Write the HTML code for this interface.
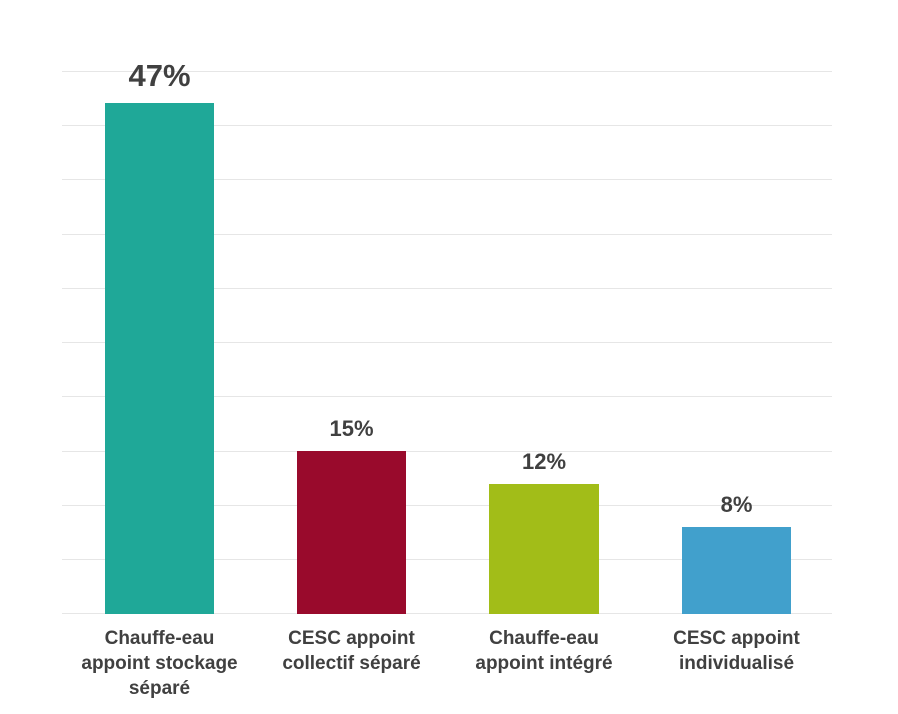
<!DOCTYPE html>
<html><head><meta charset="utf-8"><style>
html,body{margin:0;padding:0;background:#fff;}
body{width:898px;height:714px;overflow:hidden;position:relative;font-family:"Liberation Sans",Arial,sans-serif;}
</style></head><body>
<svg width="898" height="714" viewBox="0 0 898 714" xmlns="http://www.w3.org/2000/svg" style="position:absolute;left:0;top:0">
<g stroke="#e6e6e6" stroke-width="1">
<line x1="62" x2="832" y1="71.5" y2="71.5"/>
<line x1="62" x2="832" y1="125.5" y2="125.5"/>
<line x1="62" x2="832" y1="179.5" y2="179.5"/>
<line x1="62" x2="832" y1="234.5" y2="234.5"/>
<line x1="62" x2="832" y1="288.5" y2="288.5"/>
<line x1="62" x2="832" y1="342.5" y2="342.5"/>
<line x1="62" x2="832" y1="396.5" y2="396.5"/>
<line x1="62" x2="832" y1="451.5" y2="451.5"/>
<line x1="62" x2="832" y1="505.5" y2="505.5"/>
<line x1="62" x2="832" y1="559.5" y2="559.5"/>
<line x1="62" x2="832" y1="613.5" y2="613.5"/>
</g>
<rect x="105" y="103" width="109" height="511" fill="#1fa898"/>
<rect x="297" y="451" width="109" height="163" fill="#990a2c"/>
<rect x="489" y="484" width="110" height="130" fill="#a2bd18"/>
<rect x="682" y="527" width="109" height="87" fill="#41a0cc"/>
<g font-family="Liberation Sans, Arial, sans-serif" font-weight="bold" fill="#404040" text-anchor="middle">
<text x="159.5" y="86" font-size="31">47%</text>
<text x="351.5" y="436" font-size="22">15%</text>
<text x="544" y="469" font-size="22">12%</text>
<text x="736.5" y="512" font-size="22">8%</text>
<g font-size="19">
<text x="159.5" y="644">Chauffe-eau</text>
<text x="159.5" y="669">appoint stockage</text>
<text x="159.5" y="694">séparé</text>
<text x="351.5" y="644">CESC appoint</text>
<text x="351.5" y="669">collectif séparé</text>
<text x="544" y="644">Chauffe-eau</text>
<text x="544" y="669">appoint intégré</text>
<text x="736.5" y="644">CESC appoint</text>
<text x="736.5" y="669">individualisé</text>
</g>
</g>
</svg>
</body></html>
